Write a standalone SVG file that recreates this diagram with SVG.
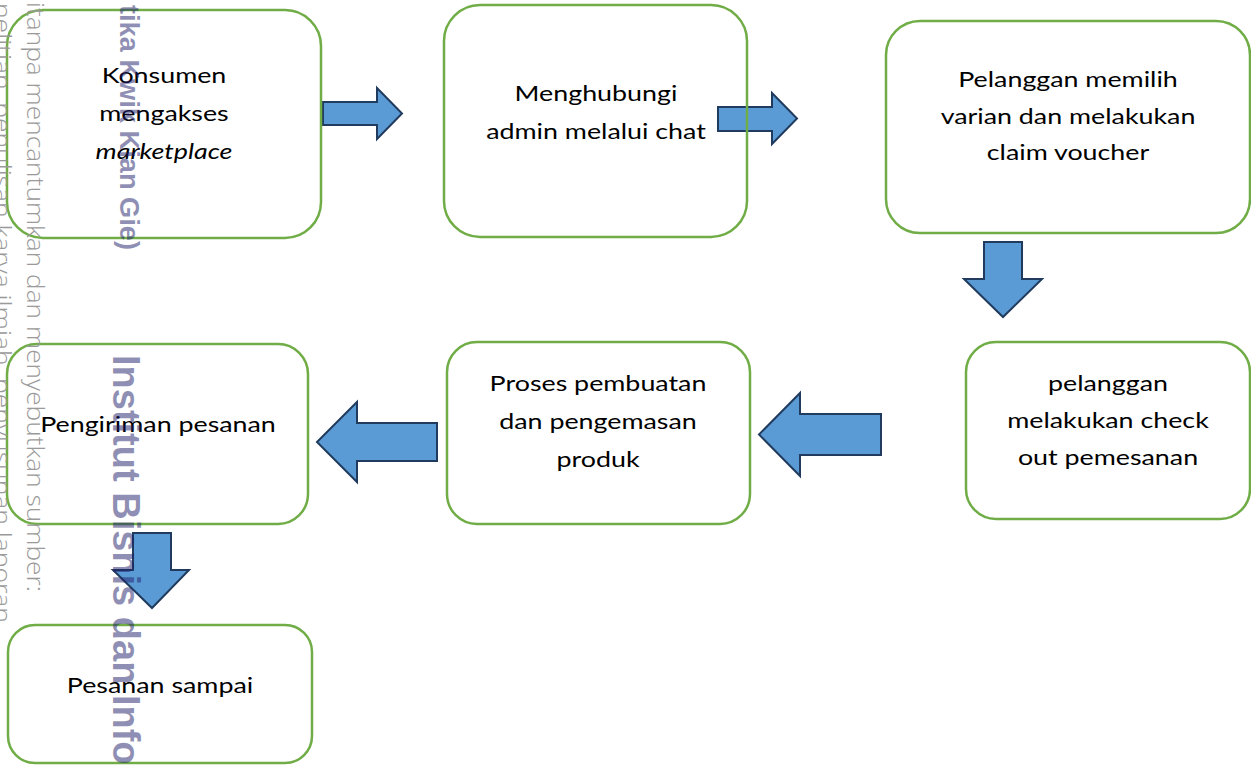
<svg xmlns="http://www.w3.org/2000/svg" width="1251" height="765" viewBox="0 0 1251 765">
<style>
.box{fill:none;stroke:#70ad47;stroke-width:2.5}
.arr{fill:#5b9bd5;stroke:#203b5e;stroke-width:2;stroke-linejoin:miter}
.lbl{font-family:Lato,"Open Sans","Liberation Sans",sans-serif;font-size:22px;fill:#000;text-anchor:middle}
.wl{font-family:"Open Sans","Liberation Sans",sans-serif;font-weight:300;font-size:24px;fill:#9a9a9a}
.wb{font-family:"Liberation Sans",Arial,sans-serif;font-weight:bold;fill:#1f1f6b;fill-opacity:0.5}
</style>
<rect width="1251" height="765" fill="#fff"/>
<g id="connectors">
<polygon class="arr" points="323,102 377,102 377,88 402,113.5 377,139 377,125 323,125"/>
<polygon class="arr" points="718,107 772,107 772,93 797,118.5 772,144 772,131 718,131"/>
<polygon class="arr" points="984,242 1022,242 1022,279 1042,279 1003,317 964,279 984,279"/>
<polygon class="arr" points="881,414 881,455 800,455 800,476 759,434.5 800,393 800,414"/>
<polygon class="arr" points="437,423 437,461 357,461 357,482 317,442 357,402 357,423"/>
<polygon class="arr" points="133,533 171,533 171,570 189,570 152,608 113,570 133,570"/>
</g>
<g id="n1">
<rect class="box" x="7" y="10" width="314" height="228" rx="36" ry="36"/>
<text class="lbl" transform="translate(164,0) scale(1.22,1)"><tspan x="0" y="83">Konsumen</tspan><tspan x="0" y="121">mengakses</tspan><tspan x="0" y="159" font-style="italic">marketplace</tspan></text>
</g>
<g id="n2">
<rect class="box" x="444" y="5" width="303" height="232" rx="36" ry="36"/>
<text class="lbl" transform="translate(596,0) scale(1.22,1)"><tspan x="0" y="101">Menghubungi</tspan><tspan x="0" y="139">admin melalui chat</tspan></text>
</g>
<g id="n3">
<rect class="box" x="886" y="21" width="364" height="212" rx="34" ry="34"/>
<text class="lbl" transform="translate(1068,0) scale(1.22,1)"><tspan x="0" y="87">Pelanggan memilih</tspan><tspan x="0" y="124">varian dan melakukan</tspan><tspan x="0" y="160">claim voucher</tspan></text>
</g>
<g id="n4">
<rect class="box" x="966" y="342" width="284" height="177" rx="30" ry="30"/>
<text class="lbl" transform="translate(1108,0) scale(1.22,1)"><tspan x="0" y="391">pelanggan</tspan><tspan x="0" y="428">melakukan check</tspan><tspan x="0" y="465">out pemesanan</tspan></text>
</g>
<g id="n5">
<rect class="box" x="447" y="342" width="303" height="182" rx="30" ry="30"/>
<text class="lbl" transform="translate(598,0) scale(1.22,1)"><tspan x="0" y="391">Proses pembuatan</tspan><tspan x="0" y="429">dan pengemasan</tspan><tspan x="0" y="467">produk</tspan></text>
</g>
<g id="n6">
<rect class="box" x="7" y="344" width="301" height="180" rx="30" ry="30"/>
<text class="lbl" transform="translate(158,0) scale(1.22,1)"><tspan x="0" y="432">Pengiriman pesanan</tspan></text>
</g>
<g id="n7">
<rect class="box" x="8" y="625" width="304" height="138" rx="27" ry="27"/>
<text class="lbl" transform="translate(160,0) scale(1.22,1)"><tspan x="0" y="693">Pesanan sampai</tspan></text>
</g>
<g id="watermark">
<text class="wl" transform="translate(-6,3) rotate(90)" x="0" y="0" textLength="620" lengthAdjust="spacingAndGlyphs">nelitian, penulisan karya ilmiah, penyusunan laporan</text>
<text class="wl" transform="translate(27,2) rotate(90)" x="0" y="0" textLength="590" lengthAdjust="spacingAndGlyphs">itanpa mencantumkan dan menyebutkan sumber:</text>
<text class="wb" font-size="27" transform="translate(120,5) rotate(90)" x="0" y="0" textLength="245" lengthAdjust="spacingAndGlyphs">tika Kwik Kian Gie)</text>
<text class="wb" font-size="38" transform="translate(113,355) rotate(90)" x="0" y="0">Institut Bisnis dan Info</text>
</g>
</svg>
